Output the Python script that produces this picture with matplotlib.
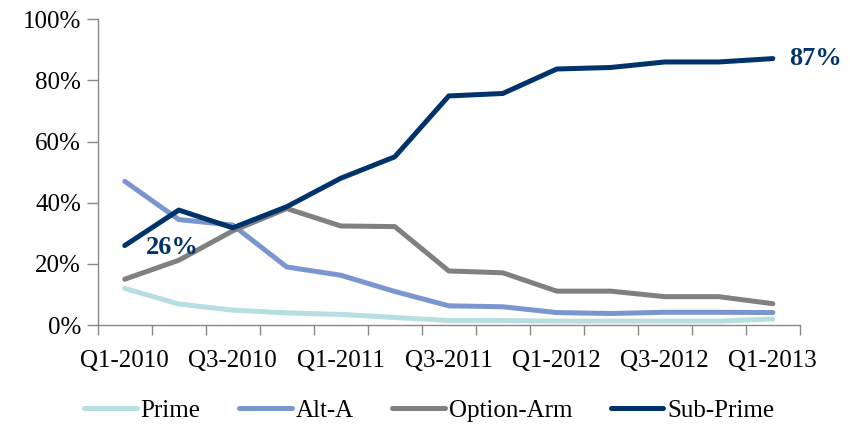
import matplotlib.pyplot as plt
import numpy as np

# Daten
quarters = ['Q1-2010', 'Q2-2010', 'Q3-2010', 'Q4-2010',
            'Q1-2011', 'Q2-2011', 'Q3-2011', 'Q4-2011',
            'Q1-2012', 'Q2-2012', 'Q3-2012', 'Q4-2012', 'Q1-2013']
prime = [12, 6.9, 4.9, 4.0, 3.5, 2.5, 1.5, 1.5, 1.3, 1.3, 1.3, 1.3, 2.0]
alt_a = [47, 34.5, 32.7, 19, 16.3, 11, 6.3, 6.0, 4.1, 3.8, 4.2, 4.2, 4.1]
option_arm = [15, 21.2, 30.8, 38.1, 32.4, 32.2, 17.7, 17.1, 11.1, 11.1, 9.3, 9.3, 7.0]
sub_prime = [26, 37.6, 31.8, 38.7, 48, 55, 74.9, 75.7, 83.7, 84.2, 86, 86, 87.1]

plt.rcParams['font.family'] = ['Liberation Serif', 'DejaVu Serif']

fig = plt.figure(figsize=(8.5, 4.25), dpi=100)
ax = fig.add_axes([0.115, 0.235, 0.826, 0.72])

x = np.arange(len(quarters)) + 0.5
lw = 3.6
ax.plot(x, prime, color='#B7DEE0', lw=lw, label='Prime', solid_capstyle='round')
ax.plot(x, alt_a, color='#7B96CE', lw=lw, label='Alt-A', solid_capstyle='round')
ax.plot(x, option_arm, color='#808080', lw=lw, label='Option-Arm', solid_capstyle='round')
ax.plot(x, sub_prime, color='#00336B', lw=lw, label='Sub-Prime', solid_capstyle='round')

# Beschriftungen
ax.text(x[0] + 0.4, sub_prime[0] - 0.5, f'{sub_prime[0]:.0f}%', color='#00336B',
        fontsize=19, fontweight='bold', va='center', ha='left')
ax.text(x[-1] + 0.3, sub_prime[-1], f'{sub_prime[-1]:.0f}%', color='#00336B',
        fontsize=19, fontweight='bold', va='center', ha='left')

ax.set_xlim(0, len(quarters))
ax.set_ylim(0, 100)
ax.set_xticks(np.arange(len(quarters) + 1))
ax.set_xticklabels([])
ax.set_xticks(x[::2], minor=True)
ax.set_xticklabels(quarters[::2], minor=True)
ax.tick_params(axis='x', which='minor', length=0, pad=18, labelsize=18)
ax.tick_params(axis='x', which='major', length=7, color='#888888', width=1)
ax.set_yticks(np.arange(0, 101, 20))
ax.set_yticklabels([f'{v}%' for v in range(0, 101, 20)])
ax.tick_params(axis='y', length=8, color='#888888', width=1, labelsize=18, pad=4)

for s in ['top', 'right']:
    ax.spines[s].set_visible(False)
for s in ['left', 'bottom']:
    ax.spines[s].set_color('#888888')
    ax.spines[s].set_linewidth(1)

fig.legend(loc='lower center', bbox_to_anchor=(0.505, -0.045), ncol=4, frameon=False,
           fontsize=18, handlelength=2.1, handletextpad=0.15, columnspacing=1.55)

fig.savefig('out.png', dpi=100)
